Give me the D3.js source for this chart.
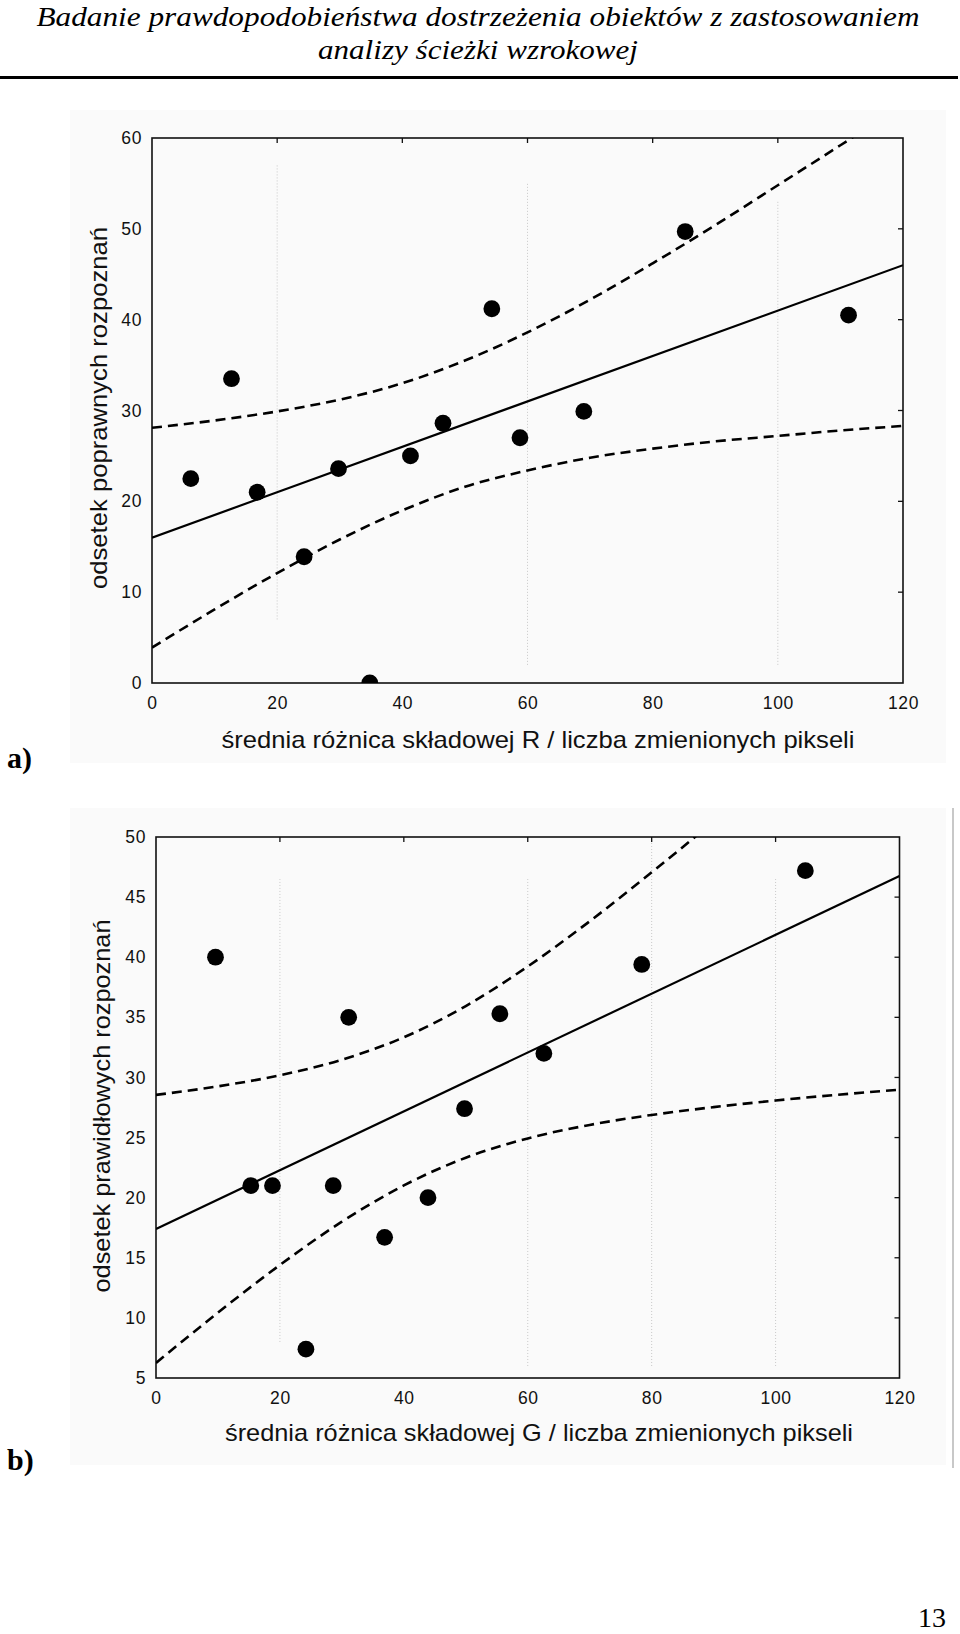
<!DOCTYPE html>
<html>
<head>
<meta charset="utf-8">
<script src="https://cdn.jsdelivr.net/npm/d3@7/dist/d3.min.js"></script>
<style>
  html, body { margin: 0; padding: 0; background: #fff; }
  svg { display: block; }
</style>
</head>
<body>
<svg id="page" width="960" height="1634"></svg>
<script>
// ---------- data ----------
const titleLines = ["Badanie prawdopodobieństwa dostrzeżenia obiektów z zastosowaniem", "analizy ścieżki wzrokowej"];
const pageNumber = "13";

const xTicks = [0, 20, 40, 60, 80, 100, 120];
const yTicksA = [0, 10, 20, 30, 40, 50, 60];
const yTicksB = [5, 10, 15, 20, 25, 30, 35, 40, 45, 50];

const xTitleA = "średnia różnica składowej R / liczba zmienionych pikseli";
const yTitleA = "odsetek poprawnych rozpoznań";
const xTitleB = "średnia różnica składowej G / liczba zmienionych pikseli";
const yTitleB = "odsetek prawidłowych rozpoznań";
const panelLabels = ["a)", "b)"];

// chart a points
const ptsAx = [6.2, 12.7, 16.8, 24.3, 29.8, 34.8, 41.3, 46.5, 54.3, 58.8, 69.0, 85.2, 111.3];
const ptsAy = [22.5, 33.5, 21.0, 13.9, 23.6, 0.0, 25.0, 28.6, 41.2, 27.0, 29.9, 49.7, 40.5];
// chart a regression line (ends)
const fitAx = [0, 120];
const fitAy = [16.0, 46.0];
// chart a confidence band
const bandX = [0, 10, 20, 30, 40, 50, 60, 70, 80, 90, 100, 110, 120];
const bandAUp = [28.1, 28.9, 29.9, 31.2, 33.0, 35.5, 38.6, 42.2, 46.2, 50.4, 54.8, 59.2, 63.7];
const bandALo = [3.9, 8.1, 12.1, 15.8, 19.0, 21.6, 23.4, 24.8, 25.8, 26.6, 27.2, 27.8, 28.3];

// chart b points
const ptsBx = [9.6, 15.3, 18.8, 24.2, 28.6, 31.1, 36.9, 43.9, 49.8, 55.5, 62.6, 78.4, 104.8];
const ptsBy = [40.0, 21.0, 21.0, 7.4, 21.0, 35.0, 16.7, 20.0, 27.4, 35.3, 32.0, 39.4, 47.2];
const fitBx = [0, 120];
const fitBy = [17.4, 46.75];
const bandBUp = [28.55, 29.26, 30.18, 31.48, 33.34, 35.94, 39.23, 42.99, 47.06, 51.29, 55.64, 60.06, 64.52];
const bandBLo = [6.25, 10.44, 14.40, 18.00, 21.02, 23.32, 24.93, 26.05, 26.88, 27.53, 28.08, 28.56, 28.98];

// faint dotted scan grid remnants (x value, y from, y to)
const gridAx = [20, 60, 100];
const gridAy0 = [7, 2, 2];
const gridAy1 = [57, 55, 53];
const gridBx = [20, 60, 80, 100];
const gridBy0 = [8, 6, 6, 6];
const gridBy1 = [46.5, 46.5, 50, 46.5];

// ---------- drawing ----------
const svg = d3.select("#page");
const SANS = "'Liberation Sans', Arial, sans-serif";
const SERIF = "'Liberation Serif', 'Times New Roman', serif";

// header
svg.append("text").attr("x", 478).attr("y", 26).attr("text-anchor", "middle")
  .attr("font-family", SERIF).attr("font-style", "italic").attr("font-size", 28)
  .attr("textLength", 883).attr("lengthAdjust", "spacingAndGlyphs")
  .text(titleLines[0]);
svg.append("text").attr("x", 478).attr("y", 59).attr("text-anchor", "middle")
  .attr("font-family", SERIF).attr("font-style", "italic").attr("font-size", 28)
  .attr("textLength", 320).attr("lengthAdjust", "spacingAndGlyphs")
  .text(titleLines[1]);
svg.append("rect").attr("x", 0).attr("y", 76).attr("width", 958).attr("height", 3).attr("fill", "#000");

// page number
svg.append("text").attr("x", 946).attr("y", 1627).attr("text-anchor", "end")
  .attr("font-family", SERIF).attr("font-size", 28).text(pageNumber);

function drawChart(cfg, idx) {
  const g = svg.append("g");
  // light scan background
  g.append("rect").attr("x", cfg.bg[0]).attr("y", cfg.bg[1]).attr("width", cfg.bg[2]).attr("height", cfg.bg[3])
    .attr("fill", "#fafafa");

  const x = d3.scaleLinear().domain([0, 120]).range([cfg.left, cfg.right]);
  const y = d3.scaleLinear().domain(cfg.yDomain).range([cfg.bottom, cfg.top]);

  const clipId = "clip" + idx;
  svg.append("clipPath").attr("id", clipId).append("rect")
    .attr("x", cfg.left).attr("y", cfg.top).attr("width", cfg.right - cfg.left).attr("height", cfg.bottom - cfg.top);

  // faint grid
  const gg = g.append("g");
  cfg.gridX.forEach((gx, i) => {
    gg.append("line").attr("x1", x(gx)).attr("x2", x(gx))
      .attr("y1", y(cfg.gridY0[i])).attr("y2", y(cfg.gridY1[i]))
      .attr("stroke", "#c8c8c8").attr("stroke-width", 1).attr("stroke-dasharray", "1,2");
  });

  // axes (bottom / left) with labels, no outer ticks
  const xAxis = d3.axisBottom(x).tickValues(xTicks).tickSize(0).tickPadding(0).tickFormat(d3.format("d"));
  const gx = g.append("g").attr("transform", `translate(0,${cfg.bottom})`).call(xAxis);
  gx.select(".domain").remove();
  gx.selectAll("text").attr("font-family", SANS).attr("font-size", 17.5).attr("fill", "#111")
    .attr("letter-spacing", 0.6)
    .attr("dy", null).attr("y", cfg.xLabelDy);

  const yAxis = d3.axisLeft(y).tickValues(cfg.yTicks).tickSize(0).tickPadding(10).tickFormat(d3.format("d"));
  const gy = g.append("g").attr("transform", `translate(${cfg.left},0)`).call(yAxis);
  gy.select(".domain").remove();
  gy.selectAll("text").attr("font-family", SANS).attr("font-size", 17.5).attr("fill", "#111")
    .attr("letter-spacing", 0.6);

  // inward ticks on top and right
  const inner = g.append("g").attr("stroke", "#111").attr("stroke-width", 1.3);
  xTicks.slice(1, -1).forEach(t => {
    inner.append("line").attr("x1", x(t)).attr("x2", x(t)).attr("y1", cfg.top).attr("y2", cfg.top + 5);
  });
  cfg.yTicks.slice(1, -1).forEach(t => {
    inner.append("line").attr("x1", cfg.right).attr("x2", cfg.right - 5).attr("y1", y(t)).attr("y2", y(t));
  });

  // frame
  g.append("rect").attr("x", cfg.left).attr("y", cfg.top)
    .attr("width", cfg.right - cfg.left).attr("height", cfg.bottom - cfg.top)
    .attr("fill", "none").attr("stroke", "#111").attr("stroke-width", 1.6);

  const plot = g.append("g").attr("clip-path", `url(#${clipId})`);

  // confidence band
  const bandLine = d3.line().x(d => x(d[0])).y(d => y(d[1])).curve(d3.curveMonotoneX);
  [cfg.bandUp, cfg.bandLo].forEach(arr => {
    plot.append("path").datum(bandX.map((bx, i) => [bx, arr[i]]))
      .attr("d", bandLine).attr("fill", "none").attr("stroke", "#000")
      .attr("stroke-width", 2.6).attr("stroke-dasharray", "10,6");
  });

  // regression line
  plot.append("path").datum(cfg.fitX.map((fx, i) => [fx, cfg.fitY[i]]))
    .attr("d", d3.line().x(d => x(d[0])).y(d => y(d[1])))
    .attr("fill", "none").attr("stroke", "#000").attr("stroke-width", 2.2);

  // points
  plot.selectAll("circle.pt").data(cfg.px.map((px, i) => [px, cfg.py[i]])).enter()
    .append("circle").attr("class", "pt")
    .attr("cx", d => x(d[0])).attr("cy", d => y(d[1])).attr("r", 8.4).attr("fill", "#000");

  // axis titles
  g.append("text").attr("x", cfg.xTitlePos[0]).attr("y", cfg.xTitlePos[1]).attr("text-anchor", "middle")
    .attr("font-family", SANS).attr("font-size", 24).attr("fill", "#111")
    .attr("textLength", cfg.xTitleLen).attr("lengthAdjust", "spacingAndGlyphs")
    .text(cfg.xTitle);
  g.append("text")
    .attr("transform", `translate(${cfg.yTitlePos[0]},${cfg.yTitlePos[1]}) rotate(-90)`)
    .attr("text-anchor", "middle")
    .attr("font-family", SANS).attr("font-size", 24).attr("fill", "#111")
    .attr("textLength", cfg.yTitleLen).attr("lengthAdjust", "spacingAndGlyphs")
    .text(cfg.yTitle);

  // panel label
  svg.append("text").attr("x", 7).attr("y", cfg.labelY)
    .attr("font-family", SERIF).attr("font-weight", "bold").attr("font-size", 30)
    .text(panelLabels[idx]);
}

drawChart({
  left: 152, right: 903, top: 138, bottom: 683,
  bg: [70, 110, 876, 653],
  yDomain: [0, 60], yTicks: yTicksA,
  xLabelDy: 26,
  px: ptsAx, py: ptsAy, fitX: fitAx, fitY: fitAy,
  bandUp: bandAUp, bandLo: bandALo,
  gridX: gridAx, gridY0: gridAy0, gridY1: gridAy1,
  xTitle: xTitleA, xTitlePos: [538, 748], xTitleLen: 633,
  yTitle: yTitleA, yTitlePos: [107, 408], yTitleLen: 362,
  labelY: 768
}, 0);

drawChart({
  left: 156, right: 899.5, top: 837, bottom: 1378,
  bg: [70, 808, 876, 657],
  yDomain: [5, 50], yTicks: yTicksB,
  xLabelDy: 26,
  px: ptsBx, py: ptsBy, fitX: fitBx, fitY: fitBy,
  bandUp: bandBUp, bandLo: bandBLo,
  gridX: gridBx, gridY0: gridBy0, gridY1: gridBy1,
  xTitle: xTitleB, xTitlePos: [539, 1441], xTitleLen: 628,
  yTitle: yTitleB, yTitlePos: [110, 1106], yTitleLen: 373,
  labelY: 1470
}, 1);

// right edge line next to chart b
svg.append("line").attr("x1", 953).attr("x2", 953).attr("y1", 808).attr("y2", 1468)
  .attr("stroke", "#c8c8c8").attr("stroke-width", 2);
</script>
</body>
</html>
